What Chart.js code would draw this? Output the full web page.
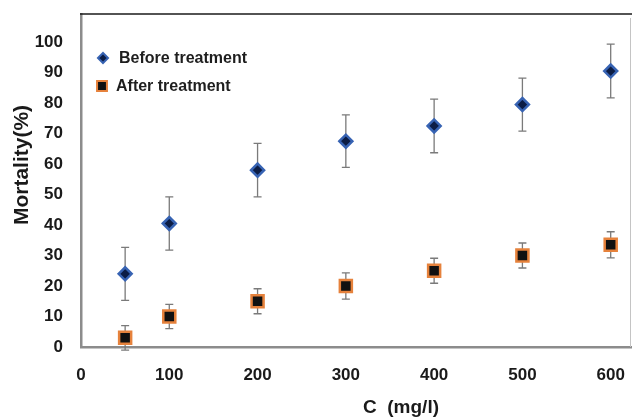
<!DOCTYPE html>
<html>
<head>
<meta charset="utf-8">
<script src="https://cdn.jsdelivr.net/npm/chart.js@4/dist/chart.umd.min.js"></script>
<style>
  html, body { margin: 0; padding: 0; background: #ffffff; }
  canvas { display: block; }
</style>
</head>
<body>
<canvas id="chart" width="632" height="418"></canvas>
<script>
// Concentration (mg/l) and mortality (%) with standard deviations
const concentrations = [50, 100, 200, 300, 400, 500, 600];
const mortalityBefore = [24, 40.5, 58, 67.5, 72.5, 79.5, 90.5];
const errorBefore = [8.7, 8.7, 8.8, 8.6, 8.8, 8.7, 8.8];
const mortalityAfter = [3, 10, 15, 20, 25, 30, 33.5];
const errorAfter = [4, 4, 4.1, 4.3, 4.1, 4.1, 4.3];
const seriesLabels = ['Before treatment', 'After treatment'];
const xTickValues = [0, 100, 200, 300, 400, 500, 600];
const yTickValues = [0, 10, 20, 30, 40, 50, 60, 70, 80, 90, 100];
const xAxisTitle = 'C  (mg/l)';
const yAxisTitle = 'Mortality(%)';

const toPoints = (ys) => concentrations.map((x, i) => ({ x: x, y: ys[i] }));

const styles = [
  { pointStyle: 'rectRot', radius: 6.5, fill: '#0c1d45', stroke: '#3763b3', border: 2.5, legendRadius: 5 },
  { pointStyle: 'rect', radius: 8.5, fill: '#111111', stroke: '#e6823c', border: 2.5, legendRadius: 7 }
];

// Vertical error bars with caps, drawn beneath the markers
const errorBars = {
  id: 'errorBars',
  beforeDatasetsDraw(chart) {
    const ctx = chart.ctx;
    const ys = chart.scales.y;
    const errs = [errorBefore, errorAfter];
    ctx.save();
    ctx.strokeStyle = '#7a7a7a';
    ctx.lineWidth = 1.3;
    chart.data.datasets.forEach((ds, di) => {
      const meta = chart.getDatasetMeta(di);
      meta.data.forEach((pt, i) => {
        const v = ds.data[i].y;
        const e = errs[di][i];
        const top = ys.getPixelForValue(v + e);
        const bot = ys.getPixelForValue(v - e);
        const x = pt.x;
        const cap = 4;
        ctx.beginPath();
        ctx.moveTo(x, top); ctx.lineTo(x, bot);
        ctx.moveTo(x - cap, top); ctx.lineTo(x + cap, top);
        ctx.moveTo(x - cap, bot); ctx.lineTo(x + cap, bot);
        ctx.stroke();
      });
    });
    ctx.restore();
  }
};

// Frame lines, axis titles and the in-plot legend
const decorations = {
  id: 'decorations',
  afterDraw(chart) {
    const ctx = chart.ctx;
    const a = chart.chartArea;
    ctx.save();
    // top and right frame
    ctx.strokeStyle = '#1a1a1a';
    ctx.lineWidth = 1.5;
    ctx.beginPath();
    ctx.moveTo(a.left - 1, a.top);
    ctx.lineTo(chart.width, a.top);
    ctx.stroke();
    ctx.strokeStyle = '#c4c4c4';
    ctx.lineWidth = 1;
    ctx.beginPath();
    ctx.moveTo(a.right - 0.5, a.top + 4);
    ctx.lineTo(a.right - 0.5, a.bottom);
    ctx.stroke();

    // axis titles
    ctx.fillStyle = '#1a1a1a';
    ctx.textAlign = 'center';
    ctx.textBaseline = 'middle';
    ctx.font = 'bold 19px "Liberation Sans", Arial, sans-serif';
    ctx.fillText(xAxisTitle, 401, 408);
    ctx.save();
    ctx.translate(22, 165);
    ctx.rotate(-Math.PI / 2);
    ctx.font = 'bold 21px "Liberation Sans", Arial, sans-serif';
    ctx.fillText(yAxisTitle, 0, 0);
    ctx.restore();

    // legend
    const rows = [
      { mx: a.left + 22, tx: a.left + 38, y: a.top + 44 },
      { mx: a.left + 21, tx: a.left + 35, y: a.top + 72 }
    ];
    ctx.font = 'bold 16px "Liberation Sans", Arial, sans-serif';
    ctx.textAlign = 'left';
    rows.forEach((r, i) => {
      const s = styles[i];
      ctx.fillStyle = s.fill;
      ctx.strokeStyle = s.stroke;
      ctx.lineWidth = 2;
      Chart.helpers.drawPoint(ctx, { pointStyle: s.pointStyle, radius: s.legendRadius, borderWidth: 2, rotation: 0 }, r.mx, r.y);
      ctx.fillStyle = '#1e1e1e';
      ctx.fillText(seriesLabels[i], r.tx, r.y + 1);
    });
    ctx.restore();
  }
};

const tickFont = { family: '"Liberation Sans", Arial, sans-serif', size: 17, weight: 'bold' };

// keep the plot frame fixed regardless of tick label overhang
const fitX = (s) => { s.height = 71; s.paddingLeft = 0; s.paddingRight = 0; };
const fitY = (s) => { s.width = 81; s.paddingTop = 0; s.paddingBottom = 0; };

new Chart(document.getElementById('chart'), {
  type: 'scatter',
  data: {
    datasets: [mortalityBefore, mortalityAfter].map((vals, i) => ({
      label: seriesLabels[i],
      data: toPoints(vals),
      pointStyle: styles[i].pointStyle,
      pointRadius: styles[i].radius,
      pointBackgroundColor: styles[i].fill,
      pointBorderColor: styles[i].stroke,
      pointBorderWidth: styles[i].border,
      showLine: false
    }))
  },
  options: {
    responsive: false,
    animation: false,
    layout: { autoPadding: false, padding: { top: 14, right: 1, left: 0, bottom: 0 } },
    plugins: { legend: { display: false }, tooltip: { enabled: false } },
    scales: {
      x: {
        type: 'linear',
        min: 0,
        max: 623,
        afterBuildTicks: (s) => { s.ticks = xTickValues.map(v => ({ value: v })); },
        afterFit: fitX,
        grid: { display: false, drawTicks: false },
        border: { display: true, color: '#8c8c8c', width: 2.5 },
        ticks: { font: tickFont, color: '#1a1a1a', padding: 18, maxRotation: 0, autoSkip: false }
      },
      y: {
        min: 0,
        max: 109.2,
        afterBuildTicks: (s) => { s.ticks = yTickValues.map(v => ({ value: v })); },
        afterFit: fitY,
        grid: { display: false, drawTicks: false },
        border: { display: true, color: '#8c8c8c', width: 2.5 },
        ticks: { font: tickFont, color: '#1a1a1a', padding: 18, autoSkip: false }
      }
    }
  },
  plugins: [errorBars, decorations]
});
</script>
</body>
</html>
